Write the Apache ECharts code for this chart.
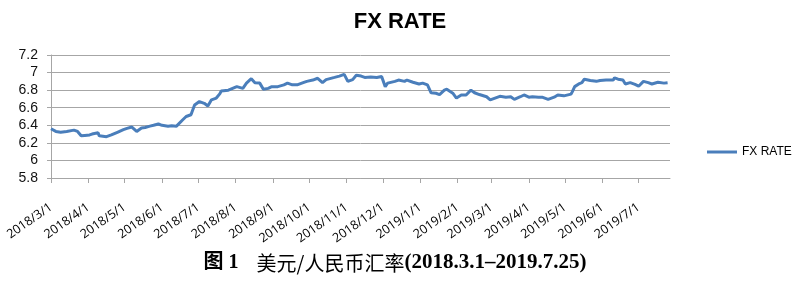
<!DOCTYPE html>
<html>
<head>
<meta charset="utf-8">
<script src="https://cdn.jsdelivr.net/npm/echarts@6/dist/echarts.min.js"></script>
<style>
html,body{margin:0;padding:0;background:#fff;}
#chart{width:800px;height:285px;}
</style>
</head>
<body>
<div id="chart"></div>
<script>
// ---- data ----
const dates = [
'2018-03-01','2018-03-05','2018-03-09','2018-03-14','2018-03-20','2018-03-23','2018-03-26','2018-03-29',
'2018-04-02','2018-04-04','2018-04-09','2018-04-10','2018-04-13','2018-04-16','2018-04-20','2018-04-25',
'2018-04-30','2018-05-03','2018-05-07','2018-05-11','2018-05-15','2018-05-18','2018-05-22','2018-05-25',
'2018-05-29','2018-06-01','2018-06-06','2018-06-09','2018-06-13','2018-06-18','2018-06-21','2018-06-25',
'2018-06-26','2018-06-28','2018-07-02','2018-07-06','2018-07-09','2018-07-12','2018-07-16','2018-07-19',
'2018-07-20','2018-07-26','2018-07-27','2018-08-02','2018-08-03','2018-08-07','2018-08-10','2018-08-14',
'2018-08-17','2018-08-21','2018-08-24','2018-08-28','2018-08-31','2018-09-05','2018-09-10','2018-09-13',
'2018-09-17','2018-09-21','2018-09-26','2018-09-29','2018-10-04','2018-10-08','2018-10-12','2018-10-15',
'2018-10-22','2018-10-26','2018-10-30','2018-11-02','2018-11-06','2018-11-09','2018-11-13','2018-11-16',
'2018-11-21','2018-11-26','2018-11-30','2018-12-03','2018-12-05','2018-12-11','2018-12-14','2018-12-19',
'2018-12-21','2018-12-26','2018-12-31','2019-01-03','2019-01-07','2019-01-10','2019-01-14','2019-01-17',
'2019-01-21','2019-01-23','2019-01-28','2019-01-31','2019-02-04','2019-02-08','2019-02-12','2019-02-15',
'2019-02-19','2019-02-25','2019-02-28','2019-03-04','2019-03-08','2019-03-13','2019-03-17','2019-03-20',
'2019-03-25','2019-03-28','2019-04-01','2019-04-04','2019-04-09','2019-04-12','2019-04-17','2019-04-22',
'2019-04-25','2019-04-30','2019-05-06','2019-05-07','2019-05-09','2019-05-13','2019-05-15','2019-05-17',
'2019-05-22','2019-05-27','2019-05-30','2019-06-04','2019-06-10','2019-06-11','2019-06-14','2019-06-18',
'2019-06-20','2019-06-24','2019-06-28','2019-07-01','2019-07-05','2019-07-09','2019-07-12','2019-07-17',
'2019-07-22','2019-07-25'
];
const fxRate = [
6.36,6.33,6.32,6.33,6.345,6.33,6.28,6.285,
6.29,6.30,6.315,6.28,6.275,6.27,6.29,6.32,
6.35,6.365,6.38,6.33,6.37,6.375,6.39,6.40,
6.415,6.40,6.39,6.395,6.39,6.46,6.50,6.52,
6.54,6.63,6.67,6.65,6.62,6.69,6.71,6.76,
6.79,6.80,6.81,6.84,6.86,6.82,6.88,6.93,
6.885,6.88,6.81,6.82,6.84,6.84,6.86,6.88,
6.86,6.86,6.885,6.90,6.915,6.935,6.885,6.92,
6.945,6.96,6.98,6.90,6.92,6.97,6.96,6.945,
6.95,6.945,6.955,6.84,6.88,6.90,6.915,6.90,
6.915,6.89,6.87,6.88,6.86,6.77,6.765,6.75,
6.80,6.81,6.765,6.71,6.745,6.745,6.80,6.77,
6.75,6.725,6.69,6.71,6.73,6.72,6.725,6.695,
6.725,6.745,6.72,6.725,6.72,6.72,6.695,6.72,
6.745,6.735,6.755,6.78,6.84,6.875,6.885,6.925,
6.91,6.90,6.91,6.915,6.915,6.94,6.925,6.915,
6.87,6.885,6.865,6.845,6.90,6.885,6.87,6.89,
6.88,6.885
];
const monthTicks = [
'2018-03-01','2018-04-01','2018-05-01','2018-06-01','2018-07-01','2018-08-01','2018-09-01',
'2018-10-01','2018-11-01','2018-12-01','2019-01-01','2019-02-01','2019-03-01','2019-04-01',
'2019-05-01','2019-06-01','2019-07-01'
];
const yTicks = [5.8, 6, 6.2, 6.4, 6.6, 6.8, 7, 7.2];
const seriesName = 'FX RATE';
const chartTitle = 'FX RATE';
const captionFig = '图 1';
const captionText = '美元/人民币汇率';
const captionRange = '(2018.3.1–2019.7.25)';

// ---- helpers ----
function ts(s){ const p = s.split('-').map(Number); return Date.UTC(p[0], p[1]-1, p[2]); }
function fmt(v){ const d = new Date(v); return d.getUTCFullYear() + '/' + (d.getUTCMonth()+1) + '/' + d.getUTCDate(); }

const chart = echarts.init(document.getElementById('chart'), null, {renderer:'canvas'});
const gridColor = '#a6a6a6';
const tickVals = monthTicks.map(ts);
chart.setOption({
  animation: false,
  backgroundColor: '#fff',
  title: {
    text: chartTitle, left: 'center', top: 6,
    textStyle: {fontFamily: 'Liberation Sans, Arial, sans-serif', fontWeight: 'bold', fontSize: 22, color: '#000'}
  },
  graphic: [{
    type: 'text', x: 395, y: 263,
    style: {
      text: '{a|' + captionFig + '}{g|}{b|' + captionText + '}{c|' + captionRange + '}',
      textAlign: 'center', textVerticalAlign: 'middle',
      rich: {
        a: {fontFamily: '"Liberation Serif", "Noto Sans CJK SC", serif', fontWeight: 'bold', fontSize: 20, fill: '#000', color: '#000'},
        g: {width: 18},
        b: {fontFamily: '"Noto Sans CJK SC", sans-serif', fontWeight: 'normal', fontSize: 20, fill: '#000', color: '#000'},
        c: {fontFamily: '"Liberation Serif", serif', fontWeight: 'bold', fontSize: 21, fill: '#000', color: '#000'}
      }
    }
  }],
  legend: {
    data: [seriesName], left: 702, top: 141, icon: 'rect', itemWidth: 30, itemHeight: 3,
    itemGap: 6,
    textStyle: {fontFamily: 'Liberation Sans, Arial, sans-serif', fontSize: 12, color: '#000'}
  },
  grid: {left: 51, right: 130, top: 55, bottom: 107, containLabel: false},
  xAxis: {
    type: 'value',
    min: ts('2018-03-01'), max: ts('2019-07-27'),
    axisLine: {show: true, lineStyle: {color: gridColor, width: 1}},
    axisTick: {show: true, length: 5, lineStyle: {color: gridColor}, customValues: tickVals},
    axisLabel: {
      customValues: tickVals, formatter: v => fmt(v), rotate: 35, margin: 28,
      fontFamily: 'Open Sans, sans-serif', fontSize: 12.5, color: '#000'
    },
    splitLine: {show: false}
  },
  yAxis: {
    type: 'value', min: yTicks[0], max: yTicks[yTicks.length-1], interval: 0.2,
    axisLine: {show: true, lineStyle: {color: gridColor, width: 1}},
    axisTick: {show: true, length: 4, lineStyle: {color: gridColor}},
    axisLabel: {margin: 13, fontFamily: 'Liberation Sans, Arial, sans-serif', fontSize: 14, color: '#111'},
    splitLine: {show: true, lineStyle: {color: gridColor, width: 1}}
  },
  series: [{
    name: seriesName, type: 'line', showSymbol: false, symbol: 'none',
    data: dates.map((d, i) => [ts(d), fxRate[i]]),
    lineStyle: {color: '#4a7ebb', width: 3},
    itemStyle: {color: '#4a7ebb'}
  }]
});
</script>
</body>
</html>
